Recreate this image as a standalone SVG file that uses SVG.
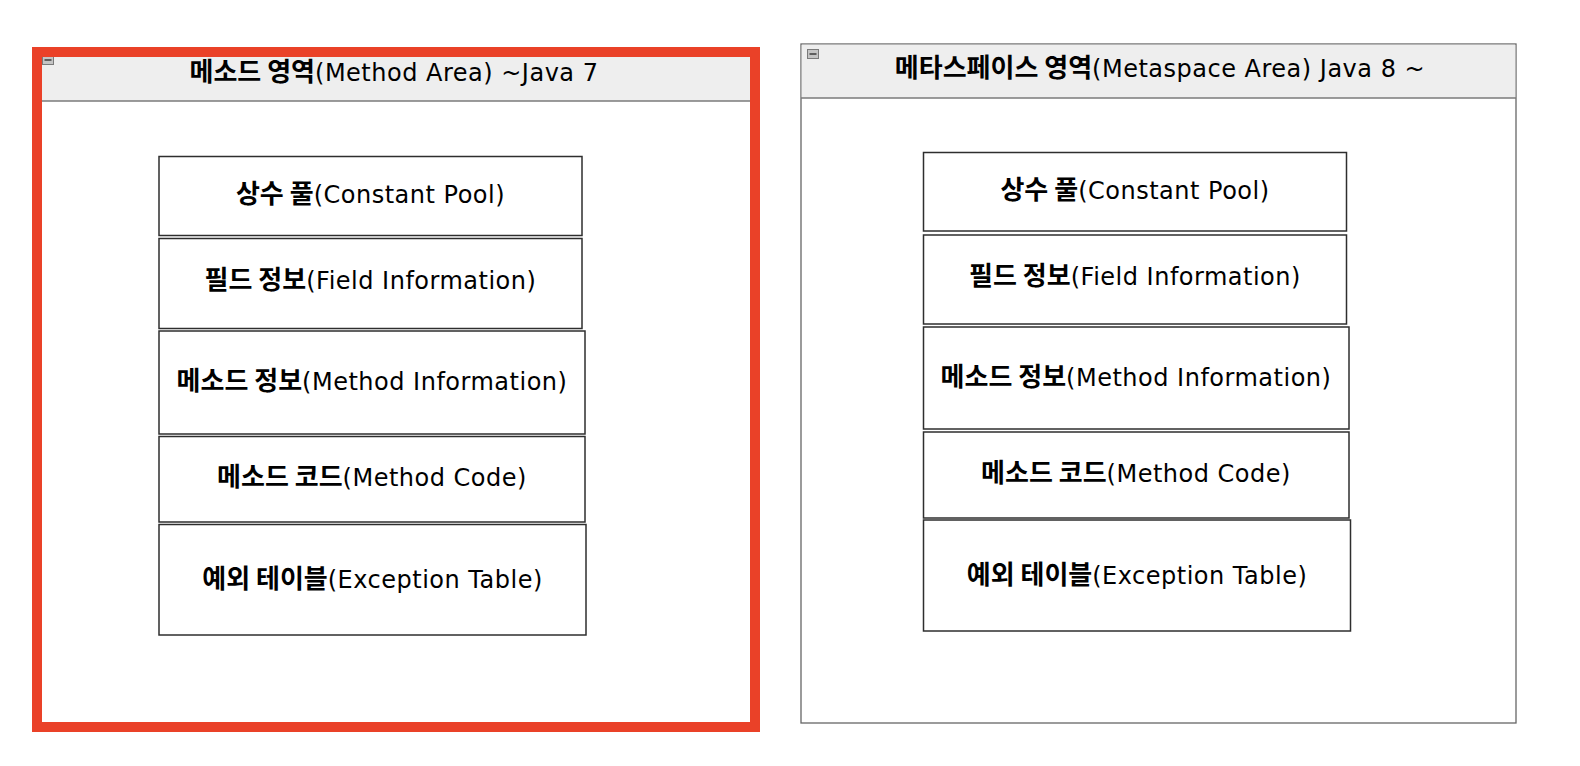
<svg xmlns="http://www.w3.org/2000/svg" width="1580" height="766" viewBox="0 0 1580 766">
<style>
  .bg { fill: #ffffff; }
  .hdr { fill: #eeeeee; }
  .hline { stroke: #7a7a7a; stroke-width: 1.5; fill: none; }
  .lane { fill: #ffffff; stroke: #666666; stroke-width: 1.3; }
  .red { fill: none; stroke: #ea4128; stroke-width: 10; }
  .icon { fill: #c4c4c4; stroke: #7a7a7a; stroke-width: 1; }
  .iconbar { stroke: #333333; stroke-width: 1.4; }
  .box { fill: #ffffff; stroke: #2e2e2e; stroke-width: 1.5; }
  .lbl { font-family: "DejaVu Sans", "Noto Sans CJK KR", sans-serif; font-size: 24px; fill: #000000; text-anchor: middle; letter-spacing: 0.5px; }
  .ko { font-family: "Noto Sans CJK KR", sans-serif; font-weight: 700; font-size: 26px; letter-spacing: 0; }
</style>
<rect class="bg" x="0" y="0" width="1580" height="766"/>

<g id="method-area">
  <rect x="37" y="47" width="718" height="680" fill="#ffffff"/>
  <rect class="hdr" x="42" y="57" width="708" height="44"/>
  <line class="hline" x1="42" y1="101" x2="750" y2="101"/>
  <rect class="icon" x="42.5" y="54.5" width="11" height="10"/>
  <line class="iconbar" x1="44.5" y1="60" x2="51.5" y2="60"/>
  <text class="lbl" x="394" y="81"><tspan class="ko">메소드 영역</tspan>(Method Area) ~Java 7</text>
  <rect class="red" x="37" y="52" width="718" height="675"/>
</g>

<g id="m-constant-pool">
  <rect class="box" x="159" y="156.5" width="423" height="79"/>
  <text class="lbl" x="370.5" y="203"><tspan class="ko">상수 풀</tspan>(Constant Pool)</text>
</g>
<g id="m-field-info">
  <rect class="box" x="159" y="238.5" width="423" height="90"/>
  <text class="lbl" x="370.5" y="289"><tspan class="ko">필드 정보</tspan>(Field Information)</text>
</g>
<g id="m-method-info">
  <rect class="box" x="159" y="331" width="426" height="103"/>
  <text class="lbl" x="372" y="390"><tspan class="ko">메소드 정보</tspan>(Method Information)</text>
</g>
<g id="m-method-code">
  <rect class="box" x="159" y="436.5" width="426" height="85.5"/>
  <text class="lbl" x="372" y="486"><tspan class="ko">메소드 코드</tspan>(Method Code)</text>
</g>
<g id="m-exception-table">
  <rect class="box" x="159" y="524.5" width="427" height="110.5"/>
  <text class="lbl" x="372.5" y="588"><tspan class="ko">예외 테이블</tspan>(Exception Table)</text>
</g>

<g id="metaspace-area">
  <rect class="lane" x="801" y="44" width="715" height="679"/>
  <rect class="hdr" x="801.7" y="44.7" width="713.6" height="53.3"/>
  <line class="hline" x1="801" y1="98" x2="1516" y2="98"/>
  <rect class="icon" x="807.5" y="49.5" width="11" height="9"/>
  <line class="iconbar" x1="809.5" y1="54" x2="816.5" y2="54"/>
  <text class="lbl" x="1160" y="77"><tspan class="ko">메타스페이스 영역</tspan>(Metaspace Area) Java 8 ~</text>
</g>

<g id="s-constant-pool">
  <rect class="box" x="923.5" y="152.5" width="423" height="78.5"/>
  <text class="lbl" x="1135" y="199"><tspan class="ko">상수 풀</tspan>(Constant Pool)</text>
</g>
<g id="s-field-info">
  <rect class="box" x="923.5" y="235" width="423" height="89"/>
  <text class="lbl" x="1135" y="285"><tspan class="ko">필드 정보</tspan>(Field Information)</text>
</g>
<g id="s-method-info">
  <rect class="box" x="923.5" y="327" width="425.5" height="102"/>
  <text class="lbl" x="1136" y="386"><tspan class="ko">메소드 정보</tspan>(Method Information)</text>
</g>
<g id="s-method-code">
  <rect class="box" x="923.5" y="432" width="425.5" height="86"/>
  <text class="lbl" x="1136" y="482"><tspan class="ko">메소드 코드</tspan>(Method Code)</text>
</g>
<g id="s-exception-table">
  <rect class="box" x="923.5" y="520" width="427" height="111"/>
  <text class="lbl" x="1137" y="584"><tspan class="ko">예외 테이블</tspan>(Exception Table)</text>
</g>

<g id="connectors"/>
</svg>
